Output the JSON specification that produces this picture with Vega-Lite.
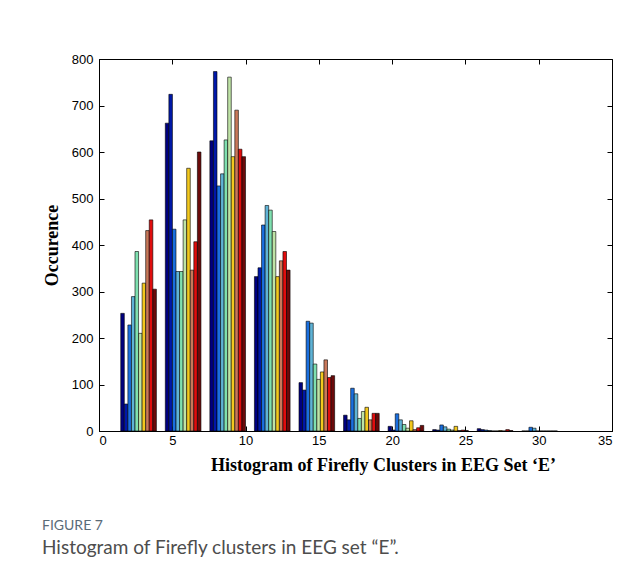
{
  "$schema": "https://vega.github.io/schema/vega-lite/v6.json",
  "width": 513,
  "height": 372,
  "autosize": "none",
  "padding": {"left": 99, "top": 59, "right": 29, "bottom": 139},
  "background": "white",
  "title": {
    "text": "FIGURE 7",
    "subtitle": "Histogram of Firefly clusters in EEG set “E”.",
    "orient": "bottom",
    "anchor": "start",
    "frame": "group",
    "dx": -57,
    "offset": 45,
    "font": "Lato",
    "fontSize": 14,
    "fontWeight": "normal",
    "color": "#5a6b78",
    "subtitleFont": "Lato",
    "subtitleFontSize": 19,
    "subtitleColor": "#4d4d4d",
    "subtitlePadding": 6
  },
  "config": {
    "view": {"stroke": "black", "strokeWidth": 1},
    "axis": {
      "domainColor": "black",
      "tickColor": "black",
      "labelColor": "black",
      "labelFont": "Liberation Sans",
      "labelFontSize": 13,
      "grid": false,
      "tickSize": -5,
      "titleFont": "Liberation Serif",
      "titleFontWeight": "bold",
      "titleFontSize": 18,
      "titleColor": "black"
    }
  },
  "data": {
    "values": [
      {"bin": 2.70, "series": "s0", "count": 253}, {"bin": 2.70, "series": "s1", "count": 58}, {"bin": 2.70, "series": "s2", "count": 228}, {"bin": 2.70, "series": "s3", "count": 289}, {"bin": 2.70, "series": "s4", "count": 386}, {"bin": 2.70, "series": "s5", "count": 210}, {"bin": 2.70, "series": "s6", "count": 318}, {"bin": 2.70, "series": "s7", "count": 431}, {"bin": 2.70, "series": "s8", "count": 454}, {"bin": 2.70, "series": "s9", "count": 305},
      {"bin": 5.73, "series": "s0", "count": 662}, {"bin": 5.73, "series": "s1", "count": 724}, {"bin": 5.73, "series": "s2", "count": 434}, {"bin": 5.73, "series": "s3", "count": 343}, {"bin": 5.73, "series": "s4", "count": 343}, {"bin": 5.73, "series": "s5", "count": 454}, {"bin": 5.73, "series": "s6", "count": 565}, {"bin": 5.73, "series": "s7", "count": 346}, {"bin": 5.73, "series": "s8", "count": 407}, {"bin": 5.73, "series": "s9", "count": 600},
      {"bin": 8.77, "series": "s0", "count": 624}, {"bin": 8.77, "series": "s1", "count": 773}, {"bin": 8.77, "series": "s2", "count": 527}, {"bin": 8.77, "series": "s3", "count": 553}, {"bin": 8.77, "series": "s4", "count": 626}, {"bin": 8.77, "series": "s5", "count": 761}, {"bin": 8.77, "series": "s6", "count": 590}, {"bin": 8.77, "series": "s7", "count": 690}, {"bin": 8.77, "series": "s8", "count": 606}, {"bin": 8.77, "series": "s9", "count": 590},
      {"bin": 11.81, "series": "s0", "count": 332}, {"bin": 11.81, "series": "s1", "count": 351}, {"bin": 11.81, "series": "s2", "count": 443}, {"bin": 11.81, "series": "s3", "count": 485}, {"bin": 11.81, "series": "s4", "count": 475}, {"bin": 11.81, "series": "s5", "count": 429}, {"bin": 11.81, "series": "s6", "count": 332}, {"bin": 11.81, "series": "s7", "count": 366}, {"bin": 11.81, "series": "s8", "count": 386}, {"bin": 11.81, "series": "s9", "count": 346},
      {"bin": 14.85, "series": "s0", "count": 104}, {"bin": 14.85, "series": "s1", "count": 88}, {"bin": 14.85, "series": "s2", "count": 236}, {"bin": 14.85, "series": "s3", "count": 232}, {"bin": 14.85, "series": "s4", "count": 144}, {"bin": 14.85, "series": "s5", "count": 111}, {"bin": 14.85, "series": "s6", "count": 127}, {"bin": 14.85, "series": "s7", "count": 153}, {"bin": 14.85, "series": "s8", "count": 115}, {"bin": 14.85, "series": "s9", "count": 119},
      {"bin": 17.89, "series": "s0", "count": 34}, {"bin": 17.89, "series": "s1", "count": 24}, {"bin": 17.89, "series": "s2", "count": 92}, {"bin": 17.89, "series": "s3", "count": 80}, {"bin": 17.89, "series": "s4", "count": 27}, {"bin": 17.89, "series": "s5", "count": 42}, {"bin": 17.89, "series": "s6", "count": 51}, {"bin": 17.89, "series": "s7", "count": 24}, {"bin": 17.89, "series": "s8", "count": 38}, {"bin": 17.89, "series": "s9", "count": 38},
      {"bin": 20.93, "series": "s0", "count": 10}, {"bin": 20.93, "series": "s1", "count": 2}, {"bin": 20.93, "series": "s2", "count": 37}, {"bin": 20.93, "series": "s3", "count": 24}, {"bin": 20.93, "series": "s4", "count": 14}, {"bin": 20.93, "series": "s5", "count": 6}, {"bin": 20.93, "series": "s6", "count": 22}, {"bin": 20.93, "series": "s7", "count": 3}, {"bin": 20.93, "series": "s8", "count": 7}, {"bin": 20.93, "series": "s9", "count": 12},
      {"bin": 23.97, "series": "s0", "count": 3}, {"bin": 23.97, "series": "s1", "count": 2}, {"bin": 23.97, "series": "s2", "count": 13}, {"bin": 23.97, "series": "s3", "count": 9}, {"bin": 23.97, "series": "s4", "count": 4}, {"bin": 23.97, "series": "s5", "count": 2}, {"bin": 23.97, "series": "s6", "count": 10}, {"bin": 23.97, "series": "s7", "count": 1}, {"bin": 23.97, "series": "s8", "count": 2}, {"bin": 23.97, "series": "s9", "count": 1},
      {"bin": 27.0, "series": "s0", "count": 5}, {"bin": 27.0, "series": "s1", "count": 3}, {"bin": 27.0, "series": "s2", "count": 2}, {"bin": 27.0, "series": "s3", "count": 1}, {"bin": 27.0, "series": "s4", "count": 0}, {"bin": 27.0, "series": "s5", "count": 0}, {"bin": 27.0, "series": "s6", "count": 1}, {"bin": 27.0, "series": "s7", "count": 0}, {"bin": 27.0, "series": "s8", "count": 3}, {"bin": 27.0, "series": "s9", "count": 1},
      {"bin": 30.04, "series": "s0", "count": 0}, {"bin": 30.04, "series": "s1", "count": 0}, {"bin": 30.04, "series": "s2", "count": 8}, {"bin": 30.04, "series": "s3", "count": 6}, {"bin": 30.04, "series": "s4", "count": 0}, {"bin": 30.04, "series": "s5", "count": 0}, {"bin": 30.04, "series": "s6", "count": 0}, {"bin": 30.04, "series": "s7", "count": 0}, {"bin": 30.04, "series": "s8", "count": 0}, {"bin": 30.04, "series": "s9", "count": 0}
    ]
  },
  "layer": [
    {
      "mark": {"type": "bar", "stroke": "black", "strokeWidth": 0.6},
      "encoding": {
        "x": {
          "field": "bin", "type": "ordinal",
          "scale": {"range": [17.29, 462.9], "paddingInner": 0.2, "paddingOuter": 0.1},
          "axis": null
        },
        "xOffset": {"field": "series", "type": "nominal", "scale": {"paddingInner": 0, "paddingOuter": 0}},
        "y": {
          "field": "count", "type": "quantitative", "stack": null,
          "scale": {"domain": [0, 800], "nice": false},
          "axis": {"values": [0, 100, 200, 300, 400, 500, 600, 700, 800], "labelPadding": 11, "title": "Occurence", "titlePadding": 10}
        },
        "color": {
          "field": "series", "type": "nominal", "legend": null,
          "scale": {"domain": ["s0","s1","s2","s3","s4","s5","s6","s7","s8","s9"], "range": ["#00007f", "#0018a8", "#1a6fdf", "#5fb3d6", "#7fe0b0", "#bfe3a6", "#f2c81e", "#c8785a", "#e00d0d", "#6b0a0a"]}
        }
      }
    },
    {
      "mark": {"type": "point", "opacity": 0},
      "encoding": {
        "x": {"field": "bin", "type": "quantitative", "scale": {"domain": [0, 35], "nice": false, "zero": false},
          "axis": {"values": [0, 5, 10, 15, 20, 25, 30, 35], "labelPadding": 8, "title": "Histogram of Firefly Clusters in EEG Set ‘E’", "titleX": 284, "titlePadding": 9}},
        "y": {"field": "count", "type": "quantitative", "stack": null, "axis": null}
      }
    },
    {
      "mark": {"type": "point", "opacity": 0},
      "encoding": {
        "x": {"field": "bin", "type": "quantitative", "scale": {"domain": [0, 35], "nice": false, "zero": false},
          "axis": {"orient": "top", "values": [0, 5, 10, 15, 20, 25, 30, 35], "labels": false, "title": null, "domain": false}},
        "y": {"field": "count", "type": "quantitative", "stack": null,
          "axis": {"orient": "right", "values": [0, 100, 200, 300, 400, 500, 600, 700, 800], "labels": false, "title": null, "domain": false}}
      }
    }
  ],
  "resolve": {"scale": {"x": "independent"}, "axis": {"x": "independent", "y": "independent"}}
}
